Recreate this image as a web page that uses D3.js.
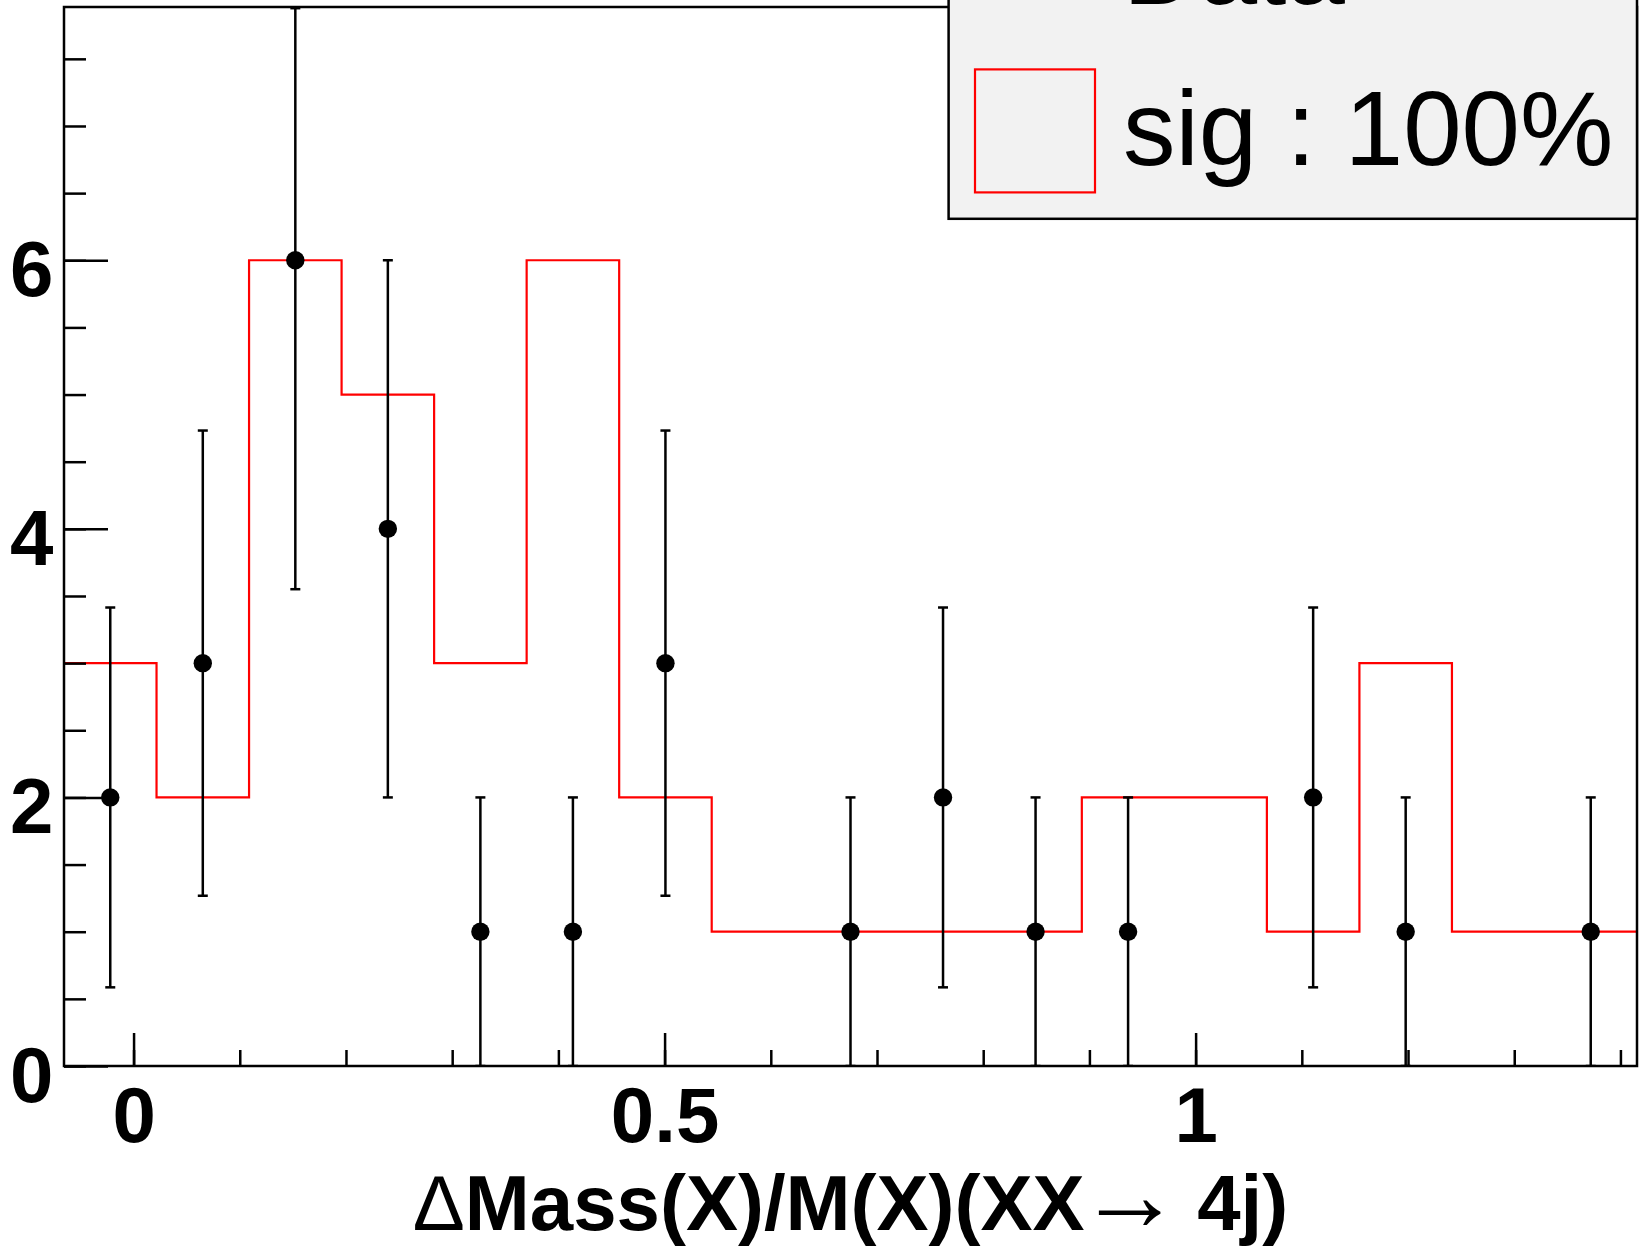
<!DOCTYPE html>
<html>
<head>
<meta charset="utf-8">
<script src="https://cdn.jsdelivr.net/npm/d3@7"></script>
<style>
  html, body { margin: 0; padding: 0; background: #fff; }
  svg { display: block; }
</style>
</head>
<body>
<script>
// ---------- data ----------
const xRange = [-0.0655, 1.4156];          // histogram axis range
const nBins = 17;
const sigCounts  = [3, 2, 6, 5, 3, 6, 2, 1, 1, 1, 1, 2, 2, 1, 3, 1, 1];
const dataCounts = [2, 3, 6, 4, 1, 1, 3, 0, 1, 2, 1, 1, 0, 2, 1, 0, 1];
const yMax = 7.886;
const yMajorTicks = [0, 2, 4, 6];
const yMinorTicks = d3.range(0, 7.6, 0.5);
const xMajorTicks = [0, 0.5, 1];
const xTickLabels = ["0", "0.5", "1"];
const xMinorTicks = d3.range(0, 1.41, 0.1);
const legendLabels = ["Data", "sig : 100%"];
const titleParts = [
  {t: "\u0394", w: "normal", s: 78, dx: 0},
  {t: "Mass(X)/M(X)(XX", w: "bold", s: 78, dx: 0},
  {t: "\u2192", w: "normal", s: 104, dx: -7},
  {t: " 4j)", w: "bold", s: 78, dx: -6}
];

// ---------- layout ----------
const W = 1649, H = 1258;
const L = 64, R = 1637, T = 7, B = 1066;
const FONT = "'Liberation Sans', Arial, Helvetica, sans-serif";
const LW = 2.5;

const svg = d3.select("body").append("svg")
  .attr("width", W).attr("height", H)
  .attr("viewBox", `0 0 ${W} ${H}`);
svg.append("rect").attr("width", W).attr("height", H).attr("fill", "#fff");

const x = d3.scaleLinear().domain(xRange).range([L, R]);
const y = d3.scaleLinear().domain([0, yMax]).range([B, T]);
const bw = (xRange[1] - xRange[0]) / nBins;
const binLo = i => xRange[0] + i * bw;
const binC = i => xRange[0] + (i + 0.5) * bw;

svg.append("defs").append("clipPath").attr("id", "frame")
  .append("rect").attr("x", L).attr("y", T).attr("width", R - L).attr("height", B - T);

const plot = svg.append("g").attr("clip-path", "url(#frame)");

// signal histogram (step outline)
const stepPts = [];
sigCounts.forEach((v, i) => {
  stepPts.push([binLo(i), v]);
  stepPts.push([binLo(i + 1), v]);
});
plot.append("path")
  .attr("d", d3.line().x(d => x(d[0])).y(d => y(d[1]))(stepPts))
  .attr("fill", "none").attr("stroke", "#ff0000").attr("stroke-width", 2.2);

// data points with sqrt(N) errors
const pts = dataCounts.map((v, i) => ({i, v})).filter(d => d.v > 0);
const eg = plot.append("g").attr("stroke", "#000").attr("stroke-width", LW);
pts.forEach(d => {
  const cx = x(binC(d.i));
  const e = Math.sqrt(d.v);
  const lo = Math.max(0, d.v - e), hi = Math.min(yMax, d.v + e);
  const yh = y(hi) + (hi >= yMax ? 1.2 : 0);
  eg.append("line").attr("x1", cx).attr("x2", cx).attr("y1", y(hi)).attr("y2", y(lo));
  eg.append("line").attr("x1", cx - 5).attr("x2", cx + 5).attr("y1", yh).attr("y2", yh);
  eg.append("line").attr("x1", cx - 5).attr("x2", cx + 5).attr("y1", y(lo)).attr("y2", y(lo));
});
plot.append("g").selectAll("circle").data(pts).join("circle")
  .attr("cx", d => x(binC(d.i))).attr("cy", d => y(d.v)).attr("r", 9.2).attr("fill", "#000");

// frame
svg.append("rect").attr("x", L).attr("y", T).attr("width", R - L).attr("height", B - T)
  .attr("fill", "none").attr("stroke", "#000").attr("stroke-width", LW);

// y axis
const yMinorAxis = d3.axisLeft(y).tickValues(yMinorTicks).tickSize(-22).tickFormat("");
const yMajorAxis = d3.axisLeft(y).tickValues(yMajorTicks).tickSize(-44).tickPadding(10.5).tickFormat(d3.format("d"));
[yMinorAxis, yMajorAxis].forEach(ax => {
  const g = svg.append("g").attr("transform", `translate(${L},0)`).call(ax);
  g.select(".domain").remove();
  g.selectAll(".tick line").attr("stroke", "#000").attr("stroke-width", LW);
  g.selectAll("text").attr("dy", null).attr("y", 35.5)
    .attr("font-family", FONT).attr("font-weight", "bold").attr("font-size", 78).attr("fill", "#000");
});

// x axis
const xMinorAxis = d3.axisBottom(x).tickValues(xMinorTicks).tickSize(-16).tickFormat("");
const xMajorAxis = d3.axisBottom(x).tickValues(xMajorTicks).tickSize(-33).tickPadding(0)
  .tickFormat((d, i) => xTickLabels[i]);
[xMinorAxis, xMajorAxis].forEach(ax => {
  const g = svg.append("g").attr("transform", `translate(0,${B})`).call(ax);
  g.select(".domain").remove();
  g.selectAll(".tick line").attr("stroke", "#000").attr("stroke-width", LW);
  g.selectAll("text").attr("dy", null).attr("y", 76)
    .attr("font-family", FONT).attr("font-weight", "bold").attr("font-size", 78).attr("fill", "#000");
});

// x title
const title = svg.append("text")
  .attr("x", (L + R) / 2).attr("y", 1230).attr("text-anchor", "middle")
  .attr("font-family", FONT).attr("fill", "#000");
title.selectAll("tspan").data(titleParts).join("tspan")
  .attr("dx", d => d.dx)
  .attr("font-weight", d => d.w).attr("font-size", d => d.s).text(d => d.t);

// legend
const lg = svg.append("g");
lg.append("rect").attr("x", 948.6).attr("y", -20).attr("width", R - 948.6).attr("height", 218.8 + 20)
  .attr("fill", "#f2f2f2").attr("stroke", "#000").attr("stroke-width", LW);
lg.append("rect").attr("x", 975).attr("y", 69.4).attr("width", 120).attr("height", 123)
  .attr("fill", "none").attr("stroke", "#ff0000").attr("stroke-width", 2.2);
lg.selectAll("text.lab").data(legendLabels).join("text").attr("class", "lab")
  .attr("x", 1123).attr("y", (d, i) => 4 + i * 161)
  .attr("font-family", FONT).attr("font-size", 105).attr("fill", "#000")
  .text(d => d);
</script>
</body>
</html>
